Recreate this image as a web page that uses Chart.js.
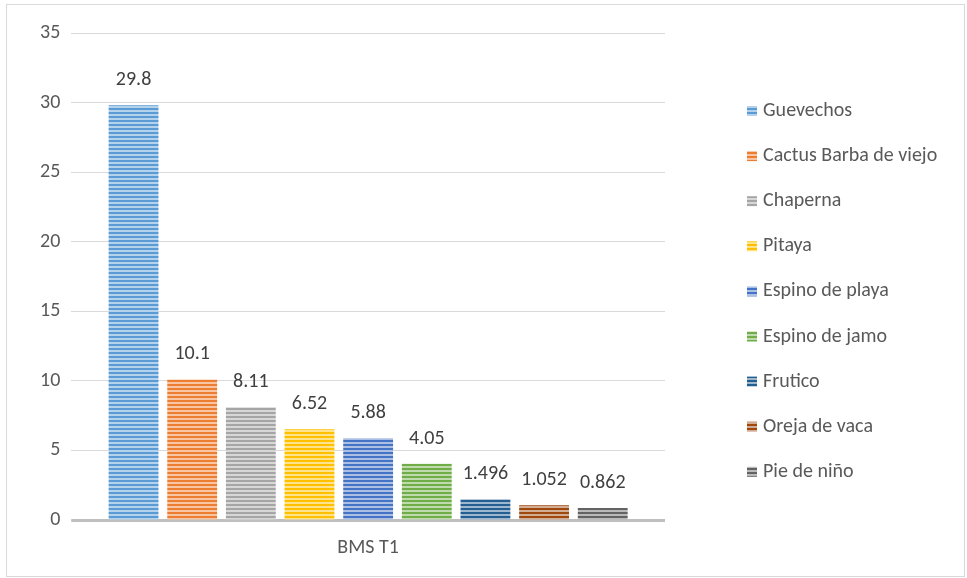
<!DOCTYPE html>
<html><head><meta charset="utf-8">
<script src="https://cdn.jsdelivr.net/npm/chart.js@4/dist/chart.umd.min.js"></script>
<style>
html,body{margin:0;padding:0;background:#fff;}
#wrap{position:absolute;left:0;top:0;width:967px;height:578px;}
#frame{position:absolute;left:6px;top:4px;width:957px;height:571px;border:1px solid #d9d9d9;pointer-events:none;}
</style></head><body>
<div id="wrap"><canvas id="c" width="967" height="578"></canvas><div id="frame"></div></div>
<script>
const categories = ["BMS T1"];
const seriesNames = ["Guevechos","Cactus Barba de viejo","Chaperna","Pitaya","Espino de playa","Espino de jamo","Frutico","Oreja de vaca","Pie de niño"];
const seriesValues = [29.8, 10.1, 8.11, 6.52, 5.88, 4.05, 1.496, 1.052, 0.862];
const valueLabels = ["29.8","10.1","8.11","6.52","5.88","4.05","1.496","1.052","0.862"];
const seriesColors = ["#5B9BD5","#ED7D31","#A5A5A5","#FFC000","#4472C4","#70AD47","#255E91","#9E480E","#636363"];
const yTicks = [0,5,10,15,20,25,30,35];

const FONT = "Carlito, Lato, 'Liberation Sans', sans-serif";
const FS = 20;

function tint(hex, f){
  const n=parseInt(hex.slice(1),16);
  let r=n>>16,g=(n>>8)&255,b=n&255;
  r=Math.round(r+(255-r)*f);g=Math.round(g+(255-g)*f);b=Math.round(b+(255-b)*f);
  return `rgb(${r},${g},${b})`;
}
function stripe(hex){
  const cv=document.createElement('canvas');cv.width=4;cv.height=4;
  const x=cv.getContext('2d');
  x.fillStyle=tint(hex,0.55);x.fillRect(0,0,4,4);
  x.fillStyle=hex;x.fillRect(0,0,4,2);
  return document.getElementById('c').getContext('2d').createPattern(cv,'repeat');
}

const datasets = seriesNames.map((n,i)=>({
  label:n, data:[seriesValues[i]], backgroundColor:stripe(seriesColors[i]),
  borderWidth:0, categoryPercentage:0.889, barPercentage:0.85
}));

const labelPlugin = {
  id:'vals',
  afterDatasetsDraw(chart){
    const ctx=chart.ctx;
    ctx.save();
    ctx.font=FS+"px "+FONT;ctx.fillStyle="#404040";ctx.textAlign="center";ctx.textBaseline="middle";
    chart.data.datasets.forEach((ds,i)=>{
      const m=chart.getDatasetMeta(i).data[0];
      ctx.fillText(valueLabels[i], m.x, m.y-25);
    });
    ctx.restore();
  }
};
const legendPlugin = {
  id:'customLegend',
  afterDraw(chart){
    const ctx=chart.ctx;
    ctx.save();
    ctx.font=FS+"px "+FONT;ctx.textAlign="left";ctx.textBaseline="middle";
    chart.data.datasets.forEach((ds,i)=>{
      const y=111+i*45.1;
      ctx.fillStyle=ds.backgroundColor;
      ctx.fillRect(747,y-5,10,10);
      ctx.fillStyle="#595959";
      ctx.fillText(ds.label,763,y);
    });
    ctx.restore();
  }
};
const zeroLine = {
  id:'zero',
  beforeDatasetsDraw(chart){
    const ctx=chart.ctx, a=chart.chartArea, y=chart.scales.y.getPixelForValue(0);
    ctx.save();ctx.strokeStyle="#bfbfbf";ctx.lineWidth=3;
    ctx.beginPath();ctx.moveTo(a.left,y+0.5);ctx.lineTo(a.right,y+0.5);ctx.stroke();ctx.restore();
  }
};

new Chart(document.getElementById('c'),{
  type:'bar',
  data:{labels:categories,datasets},
  options:{
    responsive:false,animation:false,
    layout:{padding:{left:29,right:302,top:33,bottom:10}},
    plugins:{legend:{display:false},tooltip:{enabled:false}},
    scales:{
      x:{grid:{display:false},border:{display:false},
         ticks:{color:"#595959",font:{family:FONT,size:FS},padding:8}},
      y:{min:0,max:35,afterBuildTicks(s){s.ticks=yTicks.map(v=>({value:v}));},
         grid:{color:"#d9d9d9",lineWidth:1,drawTicks:false},border:{display:false},
         ticks:{color:"#595959",font:{family:FONT,size:FS},padding:11}}
    }
  },
  plugins:[zeroLine,labelPlugin,legendPlugin]
});
</script></body></html>
